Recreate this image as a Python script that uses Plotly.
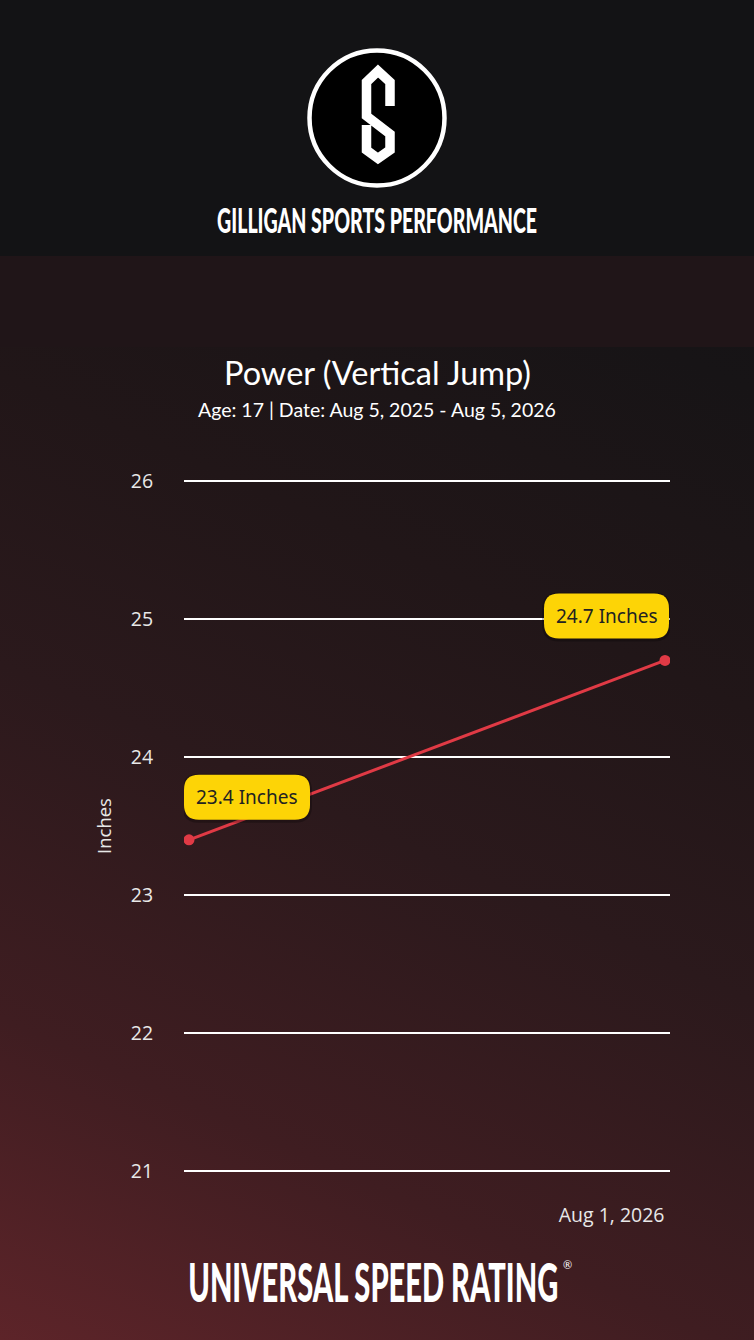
import base64
import pandas as pd
import plotly.graph_objects as go

# ---------------- data ----------------
dates = ["2025-08-05", "2026-08-01"]
values = [23.4, 24.7]
point_labels = [f"{v} Inches" for v in values]
y_ticks = [21, 22, 23, 24, 25, 26]
x_tick_dates = ["2026-08-01"]
x_tick_labels = ["Aug 1, 2026"]

title = "Power (Vertical Jump)"
subtitle = "Age: 17 | Date: Aug 5, 2025 - Aug 5, 2026"
brand_top = "GILLIGAN SPORTS PERFORMANCE"
brand_bottom = "UNIVERSAL SPEED RATING"
y_title = "Inches"

# ---------------- layout geometry ----------------
W, H = 754, 1340
GL, GR, GT, GB = 184, 670, 481, 1171     # grid extent in px
PADPX = 3
PL, PR, PT, PB = GL, GR, GT - PADPX, GB + PADPX
pw, ph = PR - PL, PB - PT
unit = (GB - GT) / (y_ticks[-1] - y_ticks[0])
yr = [y_ticks[0] - PADPX / unit, y_ticks[-1] + PADPX / unit]

def px_x(x):  # px -> paper
    return (x - PL) / pw

def px_y(y):
    return (PB - y) / ph

# background svg (gradient, header bands, logo graphic)
svg = f"""<svg xmlns='http://www.w3.org/2000/svg' width='{W}' height='{H}' viewBox='0 0 {W} {H}' preserveAspectRatio='none'>
<defs><linearGradient id='g' gradientUnits='userSpaceOnUse' x1='0' y1='{H}' x2='600' y2='0'>
<stop offset='0' stop-color='#5d2429'/>
<stop offset='0.2' stop-color='#3f1d21'/>
<stop offset='0.42' stop-color='#2b191c'/>
<stop offset='0.6' stop-color='#211618'/>
<stop offset='0.8' stop-color='#171416'/>
<stop offset='1' stop-color='#121215'/>
</linearGradient></defs>
<rect x='0' y='0' width='{W}' height='{H}' fill='url(#g)'/>
<rect x='0' y='0' width='{W}' height='256' fill='#131315'/>
<rect x='0' y='256' width='{W}' height='91' fill='#201518'/>
<circle cx='377' cy='118' r='67.5' fill='#000' stroke='#fff' stroke-width='4.5'/>
<polyline points='390,106 390,82 378,71 366.5,82 366.5,116 390,134 390,150 378,158.5 366.5,150 366.5,125'
 fill='none' stroke='#fff' stroke-width='9.5' stroke-linejoin='miter' stroke-miterlimit='4'/>
</svg>"""
svg_uri = "data:image/svg+xml;base64," + base64.b64encode(svg.encode()).decode()

fig = go.Figure()

fig.add_trace(go.Scatter(
    x=pd.to_datetime(dates), y=values, mode="lines+markers",
    line=dict(color="#e03a45", width=3),
    marker=dict(color="#e03a45", size=11),
    hoverinfo="skip", showlegend=False,
))

# x range padding (5px each side)
d = pd.to_datetime(dates)
span = (d[-1] - d[0])
pad = span * (5 / (pw - 10))
xr = [d[0] - pad, d[-1] + pad]

# pill labels anchored to the data points
def pill(x0, x1, y0, y1, r):
    return (f"M {x0+r} {y1} L {x1-r} {y1} Q {x1} {y1} {x1} {y1-r} "
            f"L {x1} {y0+r} Q {x1} {y0} {x1-r} {y0} L {x0+r} {y0} "
            f"Q {x0} {y0} {x0} {y0+r} L {x0} {y1-r} Q {x0} {y1} {x0+r} {y1} Z")

boxes = [(-5, 121, 20, 65), (-121, 4, 22, 67)]
for xd, yv, lab, (bx0, bx1, by0, by1) in zip(d, values, point_labels, boxes):
    fig.add_shape(type="path", xref="x", yref="y", xsizemode="pixel", ysizemode="pixel",
                  xanchor=xd, yanchor=yv, path=pill(bx0 - 2, bx1 + 2, by0 - 3, by1 + 1, 17),
                  fillcolor="rgba(0,0,0,0.25)", line=dict(width=0), layer="above")
    fig.add_shape(type="path", xref="x", yref="y", xsizemode="pixel", ysizemode="pixel",
                  xanchor=xd, yanchor=yv, path=pill(bx0, bx1, by0, by1, 15),
                  fillcolor="#fdd406", line=dict(width=0), layer="above")
    fig.add_annotation(x=xd, y=yv, xref="x", yref="y", text=lab, showarrow=False,
                       xshift=(bx0 + bx1) / 2, yshift=(by0 + by1) / 2,
                       font=dict(family="Noto Sans, Open Sans, sans-serif", size=19, color="#222222"))

# texts
fig.add_annotation(xref="paper", yref="paper", x=px_x(377), y=px_y(219), text=brand_top,
                   showarrow=False, xanchor="center", yanchor="middle",
                   font=dict(family="Lato, sans-serif", size=35, color="#ffffff", weight=900))
fig.add_annotation(xref="paper", yref="paper", x=px_x(377), y=px_y(373), text=title,
                   showarrow=False, xanchor="center", yanchor="middle",
                   font=dict(family="Lato, sans-serif", size=32.5, color="#ffffff"))
fig.add_annotation(xref="paper", yref="paper", x=px_x(377), y=px_y(409), text=subtitle,
                   showarrow=False, xanchor="center", yanchor="middle",
                   font=dict(family="Lato, sans-serif", size=19.5, color="#ffffff"))
fig.add_annotation(xref="paper", yref="paper", x=px_x(373), y=px_y(1281), text=brand_bottom,
                   showarrow=False, xanchor="center", yanchor="middle",
                   font=dict(family="Lato, sans-serif", size=53, color="#ffffff", weight=900))
fig.add_annotation(xref="paper", yref="paper", x=px_x(567), y=px_y(1264), text="®",
                   showarrow=False, xanchor="center", yanchor="middle",
                   font=dict(family="Lato, sans-serif", size=11, color="#ffffff"))

fig.add_layout_image(dict(source=svg_uri, xref="paper", yref="paper",
                          x=px_x(0), y=px_y(0), sizex=W / pw, sizey=H / ph,
                          xanchor="left", yanchor="top", sizing="stretch", layer="below"))

tick_font = dict(family="Open Sans, sans-serif", size=19.5, color="#e8e8e8")
fig.update_layout(
    width=W, height=H,
    margin=dict(l=PL, r=W - PR, t=PT, b=H - PB, autoexpand=False),
    paper_bgcolor="#2a191c", plot_bgcolor="rgba(0,0,0,0)",
    xaxis=dict(type="date", range=xr, showgrid=False, zeroline=False, showline=False,
               tickvals=pd.to_datetime(x_tick_dates), ticktext=x_tick_labels,
               ticks="outside", ticklen=58, tickcolor="rgba(0,0,0,0)",
               ticklabelposition="outside left", ticklabelstandoff=24,
               tickfont=tick_font),
    yaxis=dict(range=yr, tickvals=y_ticks, showgrid=True, gridcolor="#ffffff",
               gridwidth=2, zeroline=False, showline=False,
               ticks="outside", ticklen=26, tickcolor="rgba(0,0,0,0)",
               tickfont=tick_font,
               title=dict(text=y_title, standoff=14,
                          font=dict(family="Open Sans, sans-serif", size=18.5, color="#e8e8e8"))),
)

post = """
document.body.style.margin = '0';
var gd = document.getElementById('{plot_id}');
gd.querySelectorAll('text.annotation-text').forEach(function (t) {
  var s = t.textContent;
  if (s.indexOf('GILLIGAN') === 0) { t.setAttribute('textLength', '320'); t.setAttribute('lengthAdjust', 'spacingAndGlyphs'); }
  if (s.indexOf('UNIVERSAL') === 0) { t.setAttribute('textLength', '370'); t.setAttribute('lengthAdjust', 'spacingAndGlyphs'); }
});
"""

fig.write_html("out.html", post_script=post, config={"displayModeBar": False})
